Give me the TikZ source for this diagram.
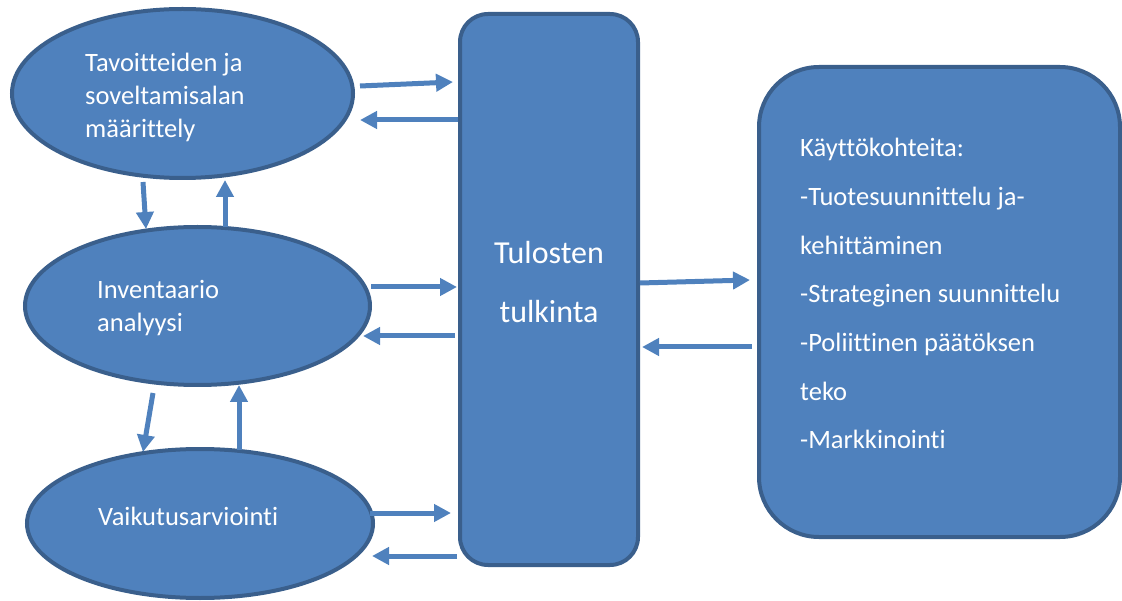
\documentclass[tikz,border=0pt]{standalone}
\usepackage{fontspec}
\setmainfont{Carlito}[Ligatures={NoCommon}]
\usetikzlibrary{shapes.geometric,arrows.meta,calc}
\definecolor{fillblue}{HTML}{4F81BD}
\definecolor{edgeblue}{HTML}{3A5F8C}
\begin{document}
\begin{tikzpicture}[x=1pt,y=-1pt,
  oval/.style={ellipse, draw=edgeblue, fill=fillblue, line width=4pt, inner sep=0pt, outer sep=0pt},
  panel/.style={rectangle, draw=edgeblue, fill=fillblue, line width=4pt, inner sep=0pt, outer sep=0pt},
  txt/.style={text=white, anchor=base west, inner sep=0pt, font=\fontsize{26.5}{31}\selectfont},
  bigtxt/.style={text=white, anchor=base, inner sep=0pt, font=\fontsize{32}{38}\selectfont},
  arr/.style={draw=fillblue, line width=5pt, -{Triangle[length=17pt,width=17pt]}}]
\useasboundingbox (0,0) rectangle (1122,601);

% shapes
\node[oval, minimum width=341pt, minimum height=169pt] (e1) at (182.5,93.5) {};
\node[oval, minimum width=345pt, minimum height=158pt] (e2) at (197.5,306) {};
\node[oval, minimum width=346pt, minimum height=149pt] (e3) at (200,523.5) {};
\node[panel, rounded corners=28pt, minimum width=178pt, minimum height=551pt] (tul) at (549,289.5) {};
\node[panel, rounded corners=60pt, minimum width=361pt, minimum height=470pt] (use) at (939.5,302) {};

% texts
\node[txt] (t1a) at (85,72) {Tavoitteiden ja};
\node[txt] (t1b) at (85,105) {soveltamisalan};
\node[txt] (t1c) at (85,138) {määrittely};
\node[txt] (t2a) at (97,299) {Inventaario};
\node[txt] (t2b) at (97,332) {analyysi};
\node[txt] (t3a) at (98,525) {Vaikutusarviointi};
\node[bigtxt] (tta) at (549,264) {Tulosten};
\node[bigtxt] (ttb) at (549,323) {tulkinta};
\node[txt] (u1) at (800,157) {Käyttökohteita:};
\node[txt] (u2) at (800,205.7) {-Tuotesuunnittelu ja-};
\node[txt] (u3) at (800,254.4) {kehittäminen};
\node[txt] (u4) at (800,303) {-Strateginen suunnittelu};
\node[txt] (u5) at (800,351.7) {-Poliittinen päätöksen};
\node[txt] (u6) at (800,400.4) {teko};
\node[txt] (u7) at (800,449) {-Markkinointi};

% connectors
\draw[arr] ($(e1.east)+(7,-7.5)$) -- ($(tul.north west)+(-7,68)$);
\draw[arr] ($(tul.north west)+(-2,106)$) -- ($(e1.east)+(7,26.5)$);
\draw[arr] ($(e1.south)+(-39.5,4)$) -- ($(e2.north)+(-51.5,2)$);
\draw[arr] ($(e2.north)+(27.5,0)$) -- ($(e1.south)+(42.5,2)$);
\draw[arr] ($(e2.east)+(1,-19)$) -- ($(tul.north west)+(-3,273)$);
\draw[arr] ($(tul.north west)+(-5,322)$) -- ($(e2.east)+(-7,30)$);
\draw[arr] ($(e2.south)+(-44.5,8)$) -- ($(e3.north)+(-57,3)$);
\draw[arr] ($(e3.north)+(39,1)$) -- ($(e2.south)+(41.5,0)$);
\draw[arr] ($(e3.east)+(-3,-10.5)$) -- ($(tul.north west)+(-9,499)$);
\draw[arr] ($(tul.north west)+(-3,542)$) -- ($(e3.east)+(-1,32.5)$);
\draw[arr] ($(tul.east)+(2,-6.5)$) -- ($(use.west)+(-9,-22)$);
\draw[arr] ($(use.west)+(-7,45)$) -- ($(tul.east)+(4,57.5)$);
\end{tikzpicture}
\end{document}
